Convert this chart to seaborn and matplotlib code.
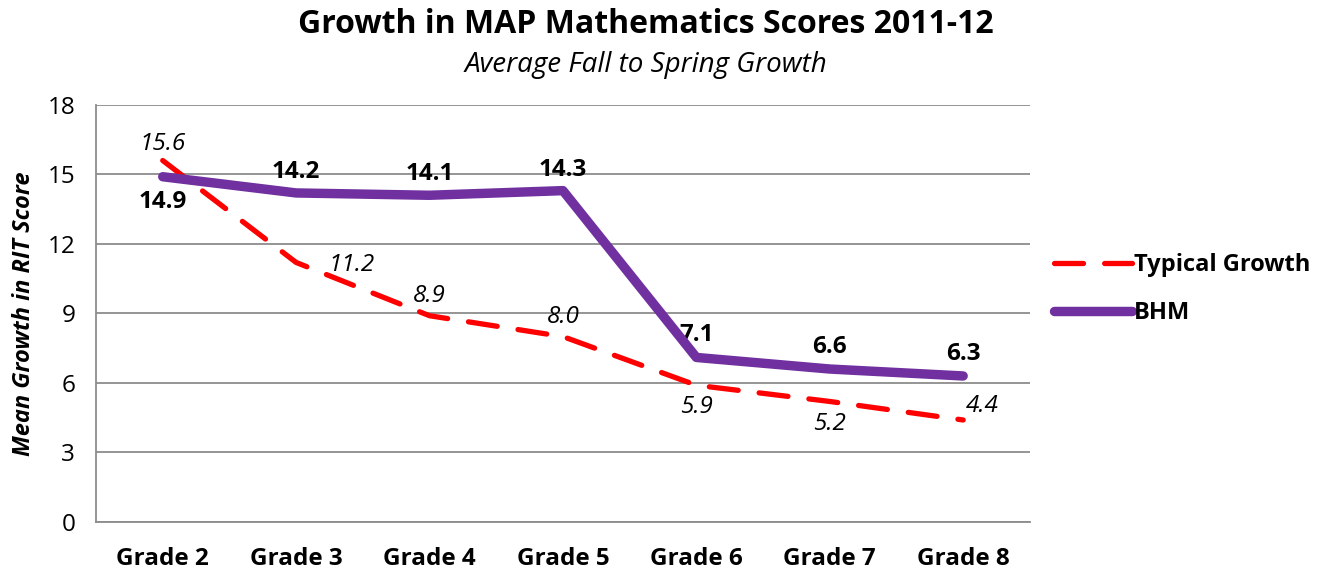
import pandas as pd
import matplotlib.pyplot as plt
import seaborn as sns

grades = ['Grade 2', 'Grade 3', 'Grade 4', 'Grade 5', 'Grade 6', 'Grade 7', 'Grade 8']
typical = [15.6, 11.2, 8.9, 8.0, 5.9, 5.2, 4.4]
bhm = [14.9, 14.2, 14.1, 14.3, 7.1, 6.6, 6.3]

df = pd.DataFrame({'Grade': grades, 'Typical Growth': typical, 'BHM': bhm})
df['x'] = range(len(grades))

sns.set_style('white')
plt.rcParams['font.family'] = ['Open Sans', 'DejaVu Sans']
plt.rcParams['text.color'] = 'black'
plt.rcParams['axes.labelcolor'] = 'black'
plt.rcParams['xtick.labelcolor'] = 'black'
plt.rcParams['ytick.labelcolor'] = 'black'

fig = plt.figure(figsize=(13.19, 5.78), dpi=100)
ax = fig.add_axes([0.0728, 0.097, 0.708, 0.7215])

grid_c = '#8c8c8c'
for v in range(0, 19, 3):
    ax.axhline(v, color=grid_c, lw=1.3, zorder=0)

sns.lineplot(data=df, x='x', y='Typical Growth', ax=ax, color='#FF0000', lw=3.8,
             dashes=False, label='Typical Growth', zorder=3)
ax.lines[-1].set_dashes([5.5, 4])
ax.lines[-1].set_dash_capstyle('round')
sns.lineplot(data=df, x='x', y='BHM', ax=ax, color='#7030A0', lw=6.8,
             label='BHM', zorder=4)
ax.lines[-1].set_solid_capstyle('round')
ax.lines[-1].set_solid_joinstyle('round')

# data labels
t_off = [(0, 12), (40, -2), (0, 14), (0, 14), (0, -16), (0, -16), (14, 10)]
for i, v in enumerate(typical):
    dx, dy = t_off[i]
    ax.annotate(f'{v:.1f}', (i, v), xytext=(dx, dy), textcoords='offset points',
                ha='center', va='center', fontsize=17.5, style='italic')
b_off = [(0, -18), (0, 15), (0, 15), (0, 15), (0, 16), (0, 16), (0, 16)]
for i, v in enumerate(bhm):
    dx, dy = b_off[i]
    ax.annotate(f'{v:.1f}', (i, v), xytext=(dx, dy), textcoords='offset points',
                ha='center', va='center', fontsize=17.5, fontweight='bold')

ax.set_xlim(-0.5, 6.5)
ax.set_ylim(0, 18)
ax.set_yticks(range(0, 19, 3))
ax.set_xticks(range(len(grades)))
ax.set_xticklabels(grades, fontsize=17.5, fontweight='bold')
ax.set_xticks([i - 0.5 for i in range(len(grades) + 1)], minor=True)
ax.tick_params(axis='x', which='major', length=0, pad=18)
ax.tick_params(axis='x', which='minor', length=7, width=1.3, color=grid_c, direction='out')
ax.tick_params(axis='y', length=7, width=1.3, color=grid_c, direction='out',
               labelsize=17.5, pad=8)
for s in ['top', 'right']:
    ax.spines[s].set_visible(False)
for s in ['left', 'bottom']:
    ax.spines[s].set_color(grid_c)
    ax.spines[s].set_linewidth(1.3)
ax.set_xlabel('')
ax.set_ylabel('Mean Growth in RIT Score', fontsize=17, fontweight='bold',
              style='italic', labelpad=8)

fig.text(0.49, 0.957, 'Growth in MAP Mathematics Scores 2011-12', ha='center',
         va='center', fontsize=23, fontweight='bold')
fig.text(0.49, 0.888, 'Average Fall to Spring Growth', ha='center', va='center',
         fontsize=20, style='italic')

leg = ax.legend(loc='center left', bbox_to_anchor=(0.783, 0.5), bbox_transform=fig.transFigure,
                frameon=False, handlelength=3.3, handletextpad=0.1,
                labelspacing=1.0, prop={'weight': 'bold', 'size': 17})

fig.savefig('out.png', dpi=100)
